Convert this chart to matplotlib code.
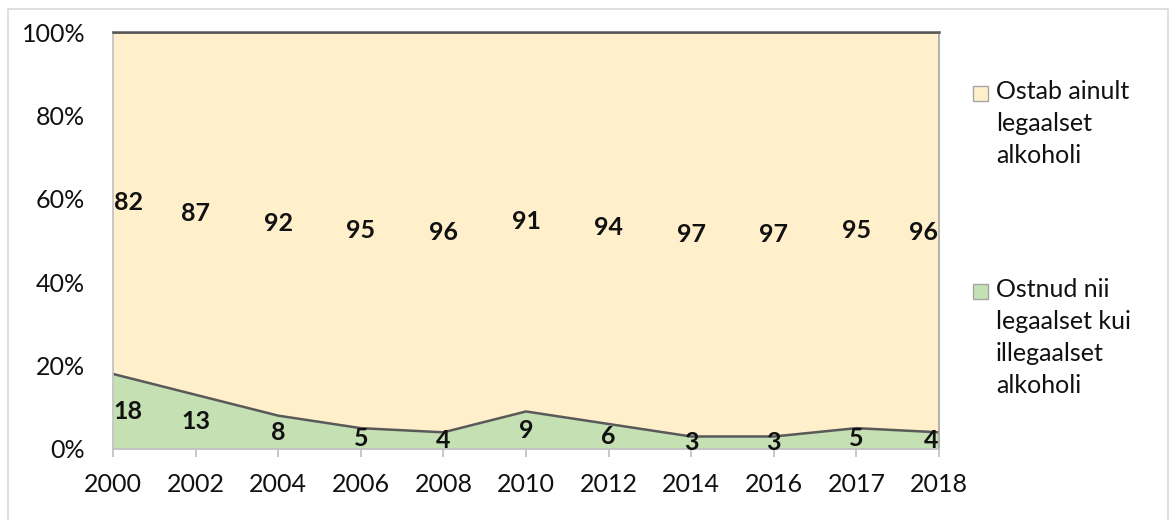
import matplotlib
matplotlib.use('Agg')
import numpy as np
import matplotlib.pyplot as plt
from matplotlib.patches import Rectangle

# data
years = ["2000", "2002", "2004", "2006", "2008", "2010", "2012", "2014", "2016", "2017", "2018"]
illegal = [18, 13, 8, 5, 4, 9, 6, 3, 3, 5, 4]
legal = [82, 87, 92, 95, 96, 91, 94, 97, 97, 95, 96]
legend_legal = "Ostab ainult\nlegaalset\nalkoholi"
legend_illegal = "Ostnud nii\nlegaalset kui\nillegaalset\nalkoholi"

c_legal = "#FFEFCB"
c_illegal = "#C5E0B3"
c_line = "#595959"

plt.rcParams['font.family'] = ['Lato', 'DejaVu Sans']

fig = plt.figure(figsize=(11.71, 5.2), dpi=100)
# outer chart border
fig.patches.append(Rectangle((8 / 1171, -0.01), (1160) / 1171, 1 - 9 / 520 + 0.01,
                             transform=fig.transFigure, fill=False,
                             edgecolor="#D9D9D9", linewidth=1.2))

ax = fig.add_axes([113 / 1171, 1 - 449 / 520, (939 - 113) / 1171, (449 - 32) / 520])

x = np.arange(len(years))
ill = np.array(illegal)
leg = np.array(legal)

ax.fill_between(x, 0, ill, color=c_illegal, linewidth=0)
ax.fill_between(x, ill, ill + leg, color=c_legal, linewidth=0)
ax.plot(x, ill, color=c_line, linewidth=1.8)
ax.plot(x, ill + leg, color=c_line, linewidth=1.8)

ax.set_xlim(0, len(years) - 1)
ax.set_ylim(0, 100)

# value labels in the middle of each band, edge ones pushed inside
for i in range(len(years)):
    ha = "center"
    xi = i
    if i == 0:
        ha = "left"
        xi = i + 0.01
    if i == len(years) - 1:
        ha = "right"
        xi = i - 0.01
    ax.text(xi, ill[i] / 2, str(illegal[i]), ha=ha, va="center",
            fontsize=18, fontweight="bold", color="#111111")
    ax.text(xi, ill[i] + leg[i] / 2, str(legal[i]), ha=ha, va="center",
            fontsize=18, fontweight="bold", color="#111111")

ax.set_xticks(x)
ax.set_xticklabels(years)
ax.set_yticks([0, 20, 40, 60, 80, 100])
ax.set_yticklabels(["0%", "20%", "40%", "60%", "80%", "100%"])
ax.tick_params(axis="x", length=6, width=1.2, color="#BFBFBF", labelsize=18, pad=11,
               labelcolor="#111111")
ax.tick_params(axis="y", length=0, labelsize=18, pad=20, labelcolor="#111111")

for s in ["left", "bottom"]:
    ax.spines[s].set_color("#BFBFBF")
    ax.spines[s].set_linewidth(1.2)
ax.spines["top"].set_color(c_line)
ax.spines["top"].set_linewidth(1.8)
ax.spines["right"].set_color("#A6A6A6")
ax.spines["right"].set_linewidth(1.2)

# legend drawn by hand to mimic the layout
def legend_entry(ymid, color, label):
    fig.patches.append(Rectangle((973 / 1171, 1 - (ymid + 8) / 520), 15 / 1171, 15 / 520,
                                 transform=fig.transFigure, facecolor=color,
                                 edgecolor="#A6A6A6", linewidth=1))
    fig.text(996 / 1171, 1 - (ymid - 13) / 520, label, ha="left", va="top",
             fontsize=18, color="#111111", linespacing=1.47)

legend_entry(93, c_legal, legend_legal)
legend_entry(291, c_illegal, legend_illegal)

plt.savefig("out.png", dpi=100)
